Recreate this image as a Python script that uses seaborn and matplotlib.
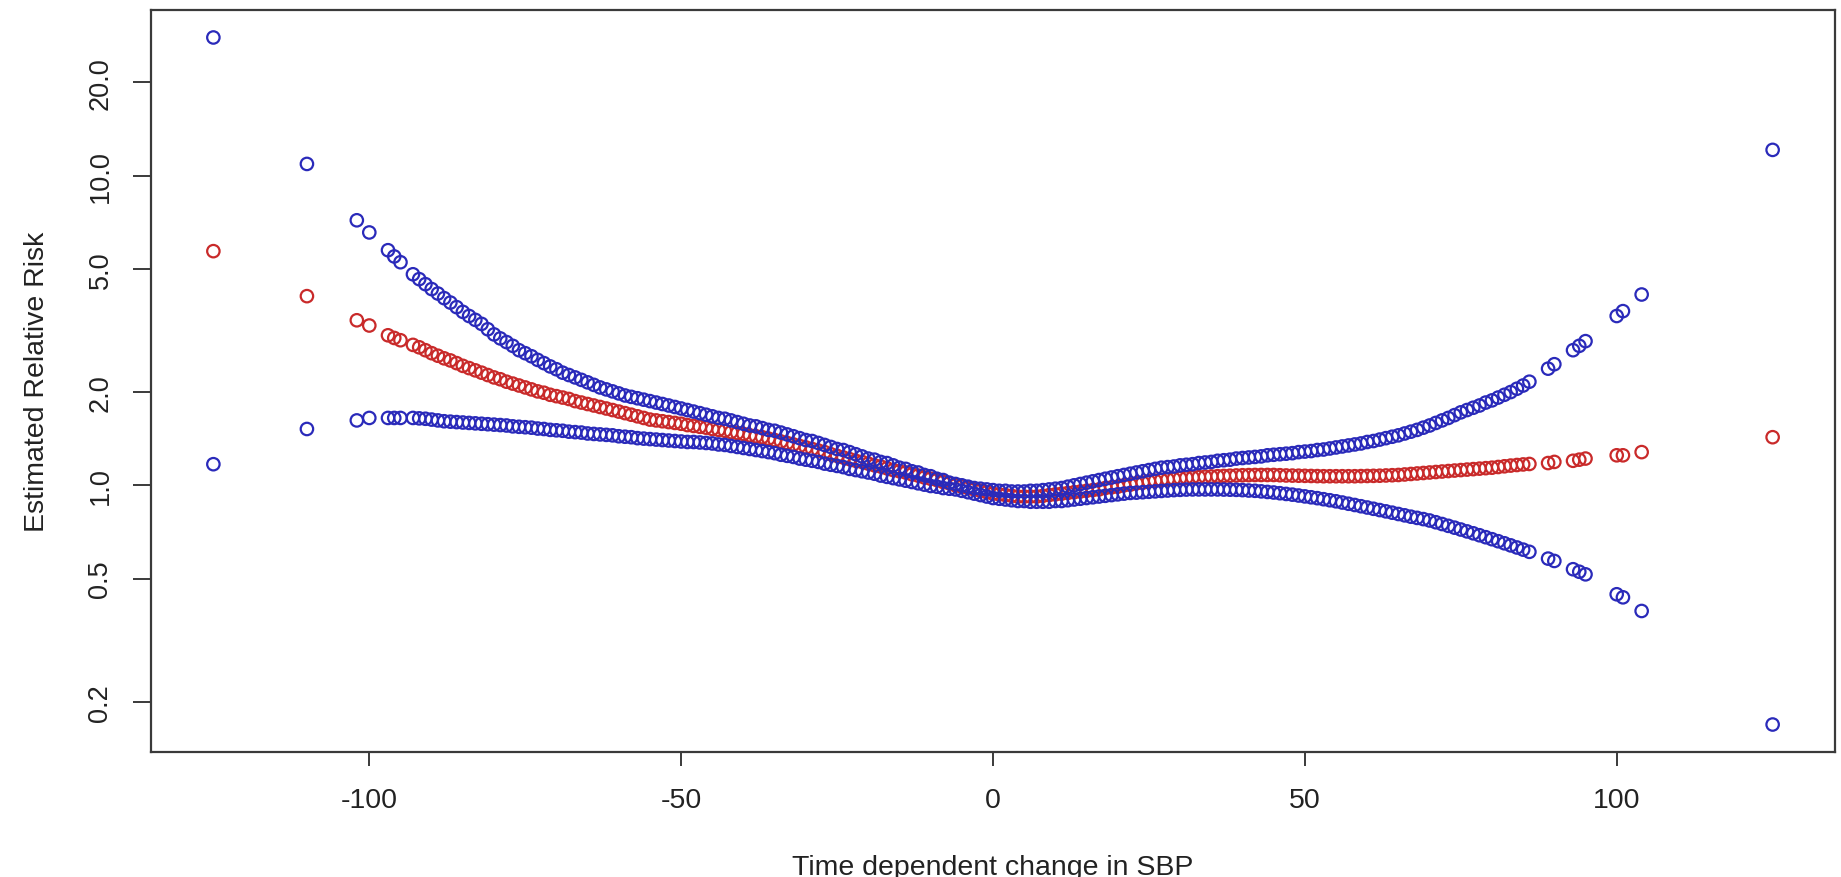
import numpy as np
import pandas as pd
import matplotlib
matplotlib.use("Agg")
import matplotlib.pyplot as plt
import seaborn as sns

# Time-dependent change in SBP (mmHg) at which the spline was evaluated
sbp_change = [
    -125, -110, -102, -100, -97, -96, -95,
    -93, -92, -91, -90, -89, -88, -87, -86, -85, -84, -83, -82, -81, -80,
    -79, -78, -77, -76, -75, -74, -73, -72, -71, -70, -69, -68, -67, -66,
    -65, -64, -63, -62, -61, -60, -59, -58, -57, -56, -55, -54, -53, -52,
    -51, -50, -49, -48, -47, -46, -45, -44, -43, -42, -41, -40, -39, -38,
    -37, -36, -35, -34, -33, -32, -31, -30, -29, -28, -27, -26, -25, -24,
    -23, -22, -21, -20, -19, -18, -17, -16, -15, -14, -13, -12, -11, -10,
    -9, -8, -7, -6, -5, -4, -3, -2, -1, 0, 1, 2, 3, 4, 5, 6, 7, 8, 9, 10,
    11, 12, 13, 14, 15, 16, 17, 18, 19, 20, 21, 22, 23, 24, 25, 26, 27, 28,
    29, 30, 31, 32, 33, 34, 35, 36, 37, 38, 39, 40, 41, 42, 43, 44, 45, 46,
    47, 48, 49, 50, 51, 52, 53, 54, 55, 56, 57, 58, 59, 60, 61, 62, 63, 64,
    65, 66, 67, 68, 69, 70, 71, 72, 73, 74, 75, 76, 77, 78, 79, 80, 81, 82,
    83, 84,
    85, 86, 89, 90, 93, 94, 95, 100, 101, 104, 125,
]

# Estimated relative risk
rr_estimate = [
    5.70, 4.08, 3.41, 3.28, 3.05, 2.99, 2.94,
    2.84, 2.79, 2.73, 2.67, 2.62, 2.57, 2.53, 2.48, 2.43, 2.39, 2.35, 2.31, 2.27, 2.23,
    2.20, 2.16, 2.13, 2.10, 2.07, 2.04, 2.01, 1.99, 1.96, 1.94, 1.92, 1.90, 1.87, 1.85,
    1.83, 1.81, 1.79, 1.77, 1.75, 1.73, 1.71, 1.69, 1.67, 1.65, 1.63, 1.62, 1.61, 1.60,
    1.59, 1.58, 1.565, 1.555, 1.545, 1.535, 1.52, 1.51, 1.50, 1.485, 1.475, 1.465, 1.45, 1.44,
    1.43, 1.415, 1.40, 1.385, 1.37, 1.355, 1.34, 1.325, 1.31, 1.295, 1.28, 1.26, 1.245, 1.23,
    1.215, 1.20, 1.19, 1.175, 1.16, 1.15, 1.135, 1.12, 1.11, 1.10, 1.085, 1.075, 1.06, 1.05,
    1.04, 1.025, 1.015, 1.00, 0.99, 0.98, 0.97, 0.96, 0.95, 0.94, 0.935, 0.93, 0.925, 0.92,
    0.92, 0.92, 0.92, 0.925, 0.93, 0.935,
    0.94, 0.945, 0.95, 0.955, 0.96, 0.965, 0.97, 0.98, 0.985, 0.99, 1.00, 1.005, 1.015, 1.02,
    1.03, 1.035, 1.04, 1.045,
    1.05, 1.055, 1.058, 1.06, 1.063, 1.066, 1.068, 1.07, 1.072, 1.074, 1.076, 1.078, 1.079,
    1.08, 1.08, 1.08, 1.08, 1.078,
    1.076, 1.075, 1.074, 1.073, 1.072, 1.071, 1.07, 1.07, 1.07, 1.07, 1.07, 1.07, 1.071,
    1.072, 1.073, 1.074, 1.076, 1.078,
    1.08, 1.084, 1.088, 1.092, 1.096, 1.10, 1.104, 1.108, 1.112, 1.116, 1.12, 1.124, 1.128,
    1.132, 1.136, 1.14, 1.146, 1.152,
    1.158, 1.163,
    1.168, 1.172, 1.18, 1.19, 1.20, 1.21, 1.22, 1.25, 1.25, 1.28, 1.43,
]

# Upper 95% confidence limit
rr_upper = [
    27.9, 10.9, 7.17, 6.55, 5.74, 5.48, 5.25,
    4.80, 4.63, 4.46, 4.30, 4.16, 4.02, 3.89, 3.76, 3.63, 3.52, 3.42, 3.32, 3.19, 3.07,
    2.98, 2.90, 2.82, 2.73, 2.67, 2.61, 2.54, 2.48, 2.42, 2.37, 2.31, 2.27, 2.23, 2.19,
    2.15, 2.11, 2.07, 2.04, 2.01, 1.98, 1.95, 1.93, 1.91, 1.89, 1.87, 1.85, 1.83, 1.81,
    1.79, 1.77, 1.75, 1.73, 1.71, 1.69, 1.67, 1.65, 1.64, 1.62, 1.60, 1.58, 1.56, 1.55,
    1.53, 1.51, 1.50, 1.48, 1.46, 1.44, 1.42, 1.40, 1.39, 1.37, 1.35, 1.33, 1.31, 1.30,
    1.28, 1.26, 1.24, 1.22, 1.21, 1.19, 1.18, 1.16, 1.14, 1.13, 1.11, 1.10, 1.08, 1.07,
    1.05, 1.04, 1.02, 1.01, 1.00, 0.99, 0.98, 0.975, 0.97, 0.965, 0.96, 0.96, 0.955, 0.955,
    0.955, 0.96, 0.96, 0.965, 0.97, 0.975,
    0.98, 0.99, 1.00, 1.01, 1.02, 1.03, 1.04, 1.05, 1.06, 1.07, 1.08, 1.09, 1.10, 1.11,
    1.12, 1.13, 1.14, 1.145,
    1.15, 1.16, 1.165, 1.17, 1.18, 1.185, 1.19, 1.20, 1.205, 1.21, 1.22, 1.225, 1.23,
    1.235, 1.24, 1.25, 1.255, 1.26,
    1.265, 1.27, 1.28, 1.285, 1.29, 1.30, 1.305, 1.315, 1.325, 1.335, 1.345, 1.355, 1.365,
    1.38, 1.39, 1.405, 1.42, 1.435,
    1.45, 1.47, 1.49, 1.51, 1.535, 1.56, 1.59, 1.62, 1.65, 1.685, 1.72, 1.75, 1.78,
    1.81, 1.85, 1.88, 1.92, 1.96,
    2.00, 2.05,
    2.10, 2.16, 2.38, 2.46, 2.73, 2.82, 2.92, 3.52, 3.65, 4.13, 12.1,
]

# Lower 95% confidence limit
rr_lower = [
    1.17, 1.52, 1.62, 1.65, 1.65, 1.65, 1.65,
    1.65, 1.645, 1.64, 1.63, 1.62, 1.61, 1.605, 1.60, 1.595, 1.59, 1.585, 1.58, 1.575, 1.57,
    1.565, 1.56, 1.55, 1.545, 1.54, 1.535, 1.525, 1.52, 1.51, 1.505, 1.50, 1.49, 1.485, 1.48,
    1.47, 1.465, 1.46, 1.455, 1.45, 1.44, 1.435, 1.43, 1.42, 1.415, 1.41, 1.405, 1.40, 1.395,
    1.39, 1.385, 1.38, 1.38, 1.375, 1.37, 1.365, 1.355, 1.35, 1.34, 1.33, 1.32, 1.31, 1.30,
    1.29, 1.28, 1.27, 1.255, 1.245, 1.235, 1.22, 1.21, 1.20, 1.19, 1.175, 1.165, 1.155, 1.145,
    1.13, 1.12, 1.11, 1.10, 1.09, 1.075, 1.065, 1.055, 1.045, 1.035, 1.025, 1.015, 1.005, 0.995,
    0.99, 0.98, 0.975, 0.97, 0.96, 0.95, 0.94, 0.93, 0.92, 0.91, 0.905, 0.90, 0.895, 0.89,
    0.89, 0.885, 0.885, 0.885, 0.885, 0.89,
    0.89, 0.895, 0.90, 0.905, 0.91, 0.915, 0.92, 0.925, 0.93, 0.935, 0.94, 0.945, 0.947, 0.95,
    0.953, 0.956, 0.959, 0.962,
    0.965, 0.967, 0.969, 0.97, 0.97, 0.97, 0.97, 0.97, 0.969, 0.968, 0.967, 0.965, 0.962,
    0.96, 0.956, 0.952, 0.948, 0.943,
    0.938, 0.933, 0.927, 0.921, 0.915, 0.909, 0.902, 0.895, 0.888, 0.88, 0.872, 0.864, 0.856,
    0.848, 0.84, 0.832, 0.824, 0.816,
    0.808, 0.80, 0.792, 0.785, 0.778, 0.77, 0.76, 0.75, 0.74, 0.73, 0.72, 0.71, 0.70,
    0.69, 0.68, 0.67, 0.66, 0.65,
    0.64, 0.63,
    0.62, 0.61, 0.58, 0.57, 0.536, 0.526, 0.516, 0.445, 0.435, 0.393, 0.169,
]

y_ticks = [0.2, 0.5, 1.0, 2.0, 5.0, 10.0, 20.0]
y_tick_labels = ["0.2", "0.5", "1.0", "2.0", "5.0", "10.0", "20.0"]
x_ticks = [-100, -50, 0, 50, 100]
x_tick_labels = ["-100", "-50", "0", "50", "100"]

df = pd.DataFrame({
    "sbp": sbp_change,
    "est": rr_estimate,
    "upper": rr_upper,
    "lower": rr_lower,
})

sns.set_style("white")
plt.rcParams["font.family"] = ["Liberation Sans", "DejaVu Sans"]

fig = plt.figure(figsize=(18.41, 8.78), dpi=100)
ax = fig.add_axes([151 / 1841, 1 - 753 / 878, (1835 - 151) / 1841, (753 - 11) / 878])

RED = "#C92A2A"
BLUE = "#2A2ABA"
marker_kw = dict(marker="o", s=80, facecolor="none", linewidth=1.6, legend=False, ax=ax)

# estimate first, confidence limits drawn over it
sns.scatterplot(data=df, x="sbp", y="est", edgecolor=RED, **marker_kw)
sns.scatterplot(data=df, x="sbp", y="upper", edgecolor=BLUE, **marker_kw)
sns.scatterplot(data=df, x="sbp", y="lower", edgecolor=BLUE, **marker_kw)

ax.set_yscale("log")

# axis ranges: data range extended by 4% on each side
xmin, xmax = df["sbp"].min(), df["sbp"].max()
xpad = 0.04 * (xmax - xmin)
ax.set_xlim(xmin - xpad, xmax + xpad)
lo = np.log10(min(df["lower"].min(), df["est"].min()))
hi = np.log10(max(df["upper"].max(), df["est"].max()))
ypad = 0.04 * (hi - lo)
ax.set_ylim(10 ** (lo - ypad), 10 ** (hi + ypad))

ax.set_xticks(x_ticks)
ax.set_xticklabels(x_tick_labels)
ax.set_yticks(y_ticks)
ax.set_yticklabels(y_tick_labels, rotation=90, va="center")
ax.yaxis.set_minor_locator(matplotlib.ticker.NullLocator())

frame_color = "#3a3a3a"
for sp in ax.spines.values():
    sp.set_visible(True)
    sp.set_color(frame_color)
    sp.set_linewidth(1.6)

ax.tick_params(axis="x", which="major", bottom=True, length=10, width=1.4,
               color=frame_color, labelsize=20.5, pad=15, labelcolor="#222222")
ax.tick_params(axis="y", which="major", left=True, length=13, width=1.4,
               color=frame_color, labelsize=19.5, pad=14, labelcolor="#222222")

ax.set_xlabel("Time dependent change in SBP", fontsize=20.5, color="#222222", labelpad=30)
ax.set_ylabel("Estimated Relative Risk", fontsize=20.5, color="#222222", labelpad=27)

fig.savefig("out.png", dpi=100, facecolor="white")
